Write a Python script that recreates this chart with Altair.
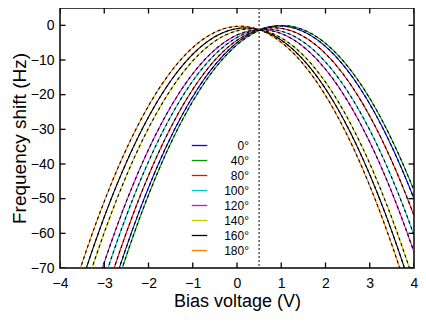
import altair as alt
import numpy as np
import pandas as pd

# ---- values ----
angles = [0, 40, 80, 100, 120, 140, 160, 180]
labels = [f"{a}°" for a in angles]
colors = ["#0000ff", "#009a00", "#ff0000", "#00c8c8", "#e000e0", "#c8c800", "#000000", "#ff8000"]
peak_voltage = [0.95, 1.02, 0.82, 0.67, 0.54, 0.31, 0.19, 0.07]     # V at curve maximum
peak_shift = [-0.18, -0.05, -0.71, -1.10, -1.25, -1.07, -0.75, -0.27]  # Hz at maximum
curvature = [5.36, 5.36, 5.36, 5.36, 5.36, 5.36, 5.36, 5.36]          # Hz / V^2
x_ticks = [-4, -3, -2, -1, 0, 1, 2, 3, 4]
y_ticks = [-70, -60, -50, -40, -30, -20, -10, 0]
cpd_voltage = [0.5]
x_domain = [-4, 4]
y_domain = [-70, 5]

# parabolic fits sampled across the voltage range
rows = []
v = np.linspace(-4, 4, 401)
for lab, v0, c, a in zip(labels, peak_voltage, peak_shift, curvature):
    f = c - a * (v - v0) ** 2
    for vi, fi in zip(v, f):
        if fi >= -76:
            rows.append({"V": float(vi), "f": float(fi), "label": lab})
df = pd.DataFrame(rows)

X = alt.X("V:Q", scale=alt.Scale(domain=x_domain, nice=False, zero=False),
          axis=alt.Axis(values=x_ticks, title="Bias voltage (V)", labelPadding=8,
                        titleFontSize=18, titlePadding=2, labelOverlap=False, labelFlush=False))
Y = alt.Y("f:Q", scale=alt.Scale(domain=y_domain, nice=False, zero=False),
          axis=alt.Axis(values=y_ticks, title="Frequency shift (Hz)", labelPadding=6,
                        titleFontSize=19, titlePadding=1, labelOverlap=False, labelFlush=False,
                        labelBound=False))

color = alt.Color("label:N", sort=labels,
                  scale=alt.Scale(domain=labels, range=colors),
                  legend=alt.Legend(orient="none", legendX=131, legendY=129, title=None,
                                    symbolType="stroke", symbolSize=240, symbolStrokeWidth=1.3,
                                    labelFontSize=12, labelAlign="right", labelOffset=41,
                                    rowPadding=0, padding=0))

data_lines = alt.Chart(df).mark_line(strokeWidth=1.1, clip=True).encode(x=X, y=Y, color=color)
fit_lines = alt.Chart(df).mark_line(strokeWidth=1.1, color="black", strokeDash=[3, 3], clip=True).encode(
    x=X, y=Y, detail="label:N")

cpd = alt.Chart(pd.DataFrame({"V": cpd_voltage})).mark_rule(
    color="#555555", strokeDash=[2, 2], strokeWidth=1.5).encode(x=X)

# inward (mirrored) ticks on all four sides
tick_bottom = pd.DataFrame({"V": x_ticks, "f": [y_domain[0]] * len(x_ticks)})
tick_top = pd.DataFrame({"V": x_ticks, "f": [y_domain[1]] * len(x_ticks)})
tick_left = pd.DataFrame({"V": [x_domain[0]] * len(y_ticks), "f": y_ticks})
tick_right = pd.DataFrame({"V": [x_domain[1]] * len(y_ticks), "f": y_ticks})

def vticks(d):
    return alt.Chart(d).mark_tick(orient="vertical", size=11, thickness=1.3, color="black",
                                  clip=True, opacity=1).encode(x=X, y=Y)

def hticks(d):
    return alt.Chart(d).mark_tick(orient="horizontal", size=11, thickness=1.3, color="black",
                                  clip=True, opacity=1).encode(x=X, y=Y)

chart = alt.layer(
    data_lines, fit_lines, cpd,
    vticks(tick_bottom), vticks(tick_top), hticks(tick_left), hticks(tick_right)
).properties(
    width=354, height=260,
    autosize=alt.AutoSizeParams(type="none"),
    padding={"left": 52, "top": 0, "right": 4, "bottom": 45},
).configure_view(
    stroke="black", strokeWidth=1.5
).configure_axis(
    domain=False, ticks=False, grid=False, labelOverlap=False,
    labelFont="Liberation Sans", labelFontSize=14, labelColor="black",
    titleFont="Liberation Sans", titleFontWeight="normal", titleColor="black"
).configure_legend(
    labelFont="Liberation Sans", labelColor="black"
)

chart.save("out.html", embed_options={"renderer": "svg", "actions": False})
